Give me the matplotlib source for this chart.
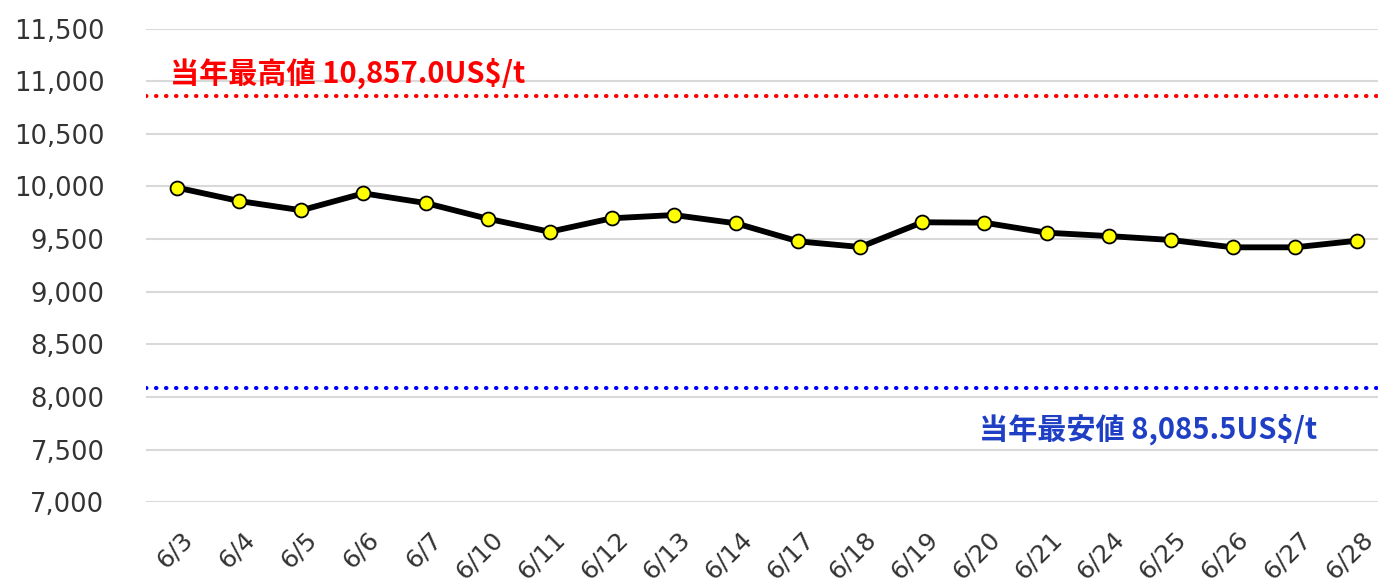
import matplotlib
matplotlib.use("Agg")
import matplotlib.pyplot as plt
import matplotlib.transforms as mtransforms

dates = ["6/3", "6/4", "6/5", "6/6", "6/7", "6/10", "6/11", "6/12", "6/13", "6/14",
         "6/17", "6/18", "6/19", "6/20", "6/21", "6/24", "6/25", "6/26", "6/27", "6/28"]
prices = [9989, 9862, 9774, 9935, 9843, 9694, 9570, 9698, 9729, 9650,
          9479, 9425, 9660, 9656, 9561, 9529, 9492, 9422, 9422, 9485]

year_high = 10857.0
year_low = 8085.5
high_label = "当年最高値 10,857.0US$/t"
low_label = "当年最安値 8,085.5US$/t"

yticks = list(range(7000, 11501, 500))

fig = plt.figure(figsize=(13.78, 5.84), dpi=100)
ax = fig.add_axes([0.106, 0.140, 0.9013, 0.811])

x = list(range(len(dates)))

# reference lines
ax.axhline(year_high, color="#ff0000", lw=3.0, linestyle=(0, (0.1, 2.3)),
           dash_capstyle="round", zorder=2)
ax.axhline(year_low, color="#0000ff", lw=3.0, linestyle=(0, (0.1, 2.3)),
           dash_capstyle="round", zorder=2)

# price series
ax.plot(x, prices, color="black", lw=4.2, marker="o", markersize=10,
        markerfacecolor="#ffff00", markeredgecolor="black", markeredgewidth=1.3,
        zorder=3)

jp = ["Noto Sans CJK JP", "DejaVu Sans"]
ax.text(-0.11, 10987, high_label, color="#ff0000", fontsize=21, fontweight="bold",
        family=jp, ha="left", va="baseline")
ax.text(18.36, 7609, low_label, color="#1f3fc4", fontsize=21, fontweight="bold",
        family=jp, ha="right", va="baseline")

ax.set_xlim(-0.5, len(dates) - 0.5)
ax.set_ylim(7000, 11500)
ax.set_yticks(yticks)
ax.set_yticklabels([f"{v:,}" for v in yticks], fontsize=18.5, color="#333333")
ax.set_xticks(x)
ax.set_xticklabels(dates, fontsize=18, color="#333333", rotation=45,
                   ha="right", va="center", rotation_mode="anchor")

ax.tick_params(axis="y", length=0, pad=30)
ax.tick_params(axis="x", length=0, pad=24)
offset = mtransforms.ScaledTranslation(0.12, 0, fig.dpi_scale_trans)
for lbl in ax.get_xticklabels():
    lbl.set_transform(lbl.get_transform() + offset)

ax.yaxis.grid(True, color="#d9d9d9", lw=1.5)
ax.set_axisbelow(True)
for s in ax.spines.values():
    s.set_visible(False)

fig.savefig("out.png", dpi=100)
